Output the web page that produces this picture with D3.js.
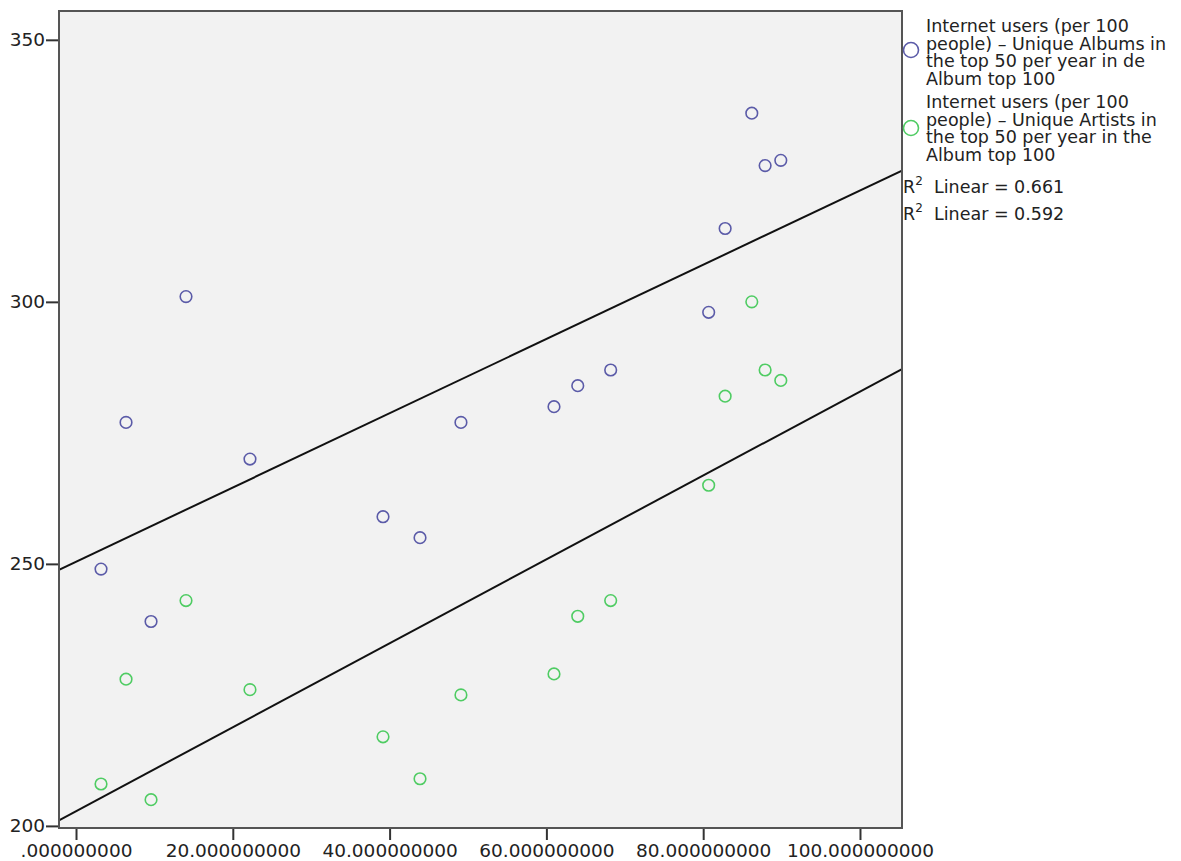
<!DOCTYPE html>
<html><head><meta charset="utf-8">
<script src="https://cdn.jsdelivr.net/npm/d3@7"></script>
<style>body{margin:0;background:#fff}svg{display:block}</style>
</head><body>
<script>
const internetUsers = [3.19, 6.38, 9.57, 14.03, 22.19, 39.16, 43.88, 49.1, 60.97, 64.0, 68.2, 80.7, 82.8, 86.2, 87.9, 89.9];
const uniqueAlbums  = [249, 277, 239, 301, 270, 259, 255, 277, 280, 284, 287, 298, 314, 336, 326, 327];
const uniqueArtists = [208, 228, 205, 243, 226, 217, 209, 225, 229, 240, 243, 265, 282, 300, 287, 285];
const seriesNames = [
  ["Internet users (per 100", "people) – Unique Albums in", "the top 50 per year in de", "Album top 100"],
  ["Internet users (per 100", "people) – Unique Artists in", "the top 50 per year in the", "Album top 100"]
];
const r2Labels = ["0.661", "0.592"];
const xTicks = [0, 20, 40, 60, 80, 100];
const yTicks = [200, 250, 300, 350];
const colors = ["#5b5ba8", "#4fcc63"];

const W = 1181, H = 861;
const L = 59, T = 11, R = 902, B = 828;
const svg = d3.select("body").append("svg").attr("width", W).attr("height", H);
const x = d3.scaleLinear().domain([-2.17, 105.36]).range([L, R]);
const y = d3.scaleLinear().domain([199.6, 355.5]).range([B, T]);

svg.append("rect").attr("x", L).attr("y", T).attr("width", R - L).attr("height", B - T).attr("fill", "#f2f2f2");

const font = "'DejaVu Sans', sans-serif";
const xAxis = svg.append("g").attr("transform", `translate(0,${B})`)
  .call(d3.axisBottom(x).tickValues(xTicks).tickSize(12).tickSizeOuter(0).tickFormat(d => d === 0 ? ".000000000" : d3.format(".9f")(d)));
xAxis.select(".domain").remove();
xAxis.selectAll("line").attr("stroke", "#333").attr("stroke-width", 2);
xAxis.selectAll("text").style("font-family", font).style("font-size", "18.5px").attr("fill", "#222").attr("dy", "0.71em").attr("y", 16);

const yAxis = svg.append("g").attr("transform", `translate(${L},0)`)
  .call(d3.axisLeft(y).tickValues(yTicks).tickSize(13).tickSizeOuter(0));
yAxis.select(".domain").remove();
yAxis.selectAll("line").attr("stroke", "#333").attr("stroke-width", 2);
yAxis.selectAll("text").style("font-family", font).style("font-size", "18.5px").attr("fill", "#222").attr("x", -14);

svg.append("clipPath").attr("id", "clip").append("rect")
  .attr("x", L).attr("y", T).attr("width", R - L).attr("height", B - T);

function fit(xs, ys) {
  const mx = d3.mean(xs), my = d3.mean(ys);
  let sxy = 0, sxx = 0;
  xs.forEach((v, i) => { sxy += (v - mx) * (ys[i] - my); sxx += (v - mx) ** 2; });
  const b = sxy / sxx;
  return v => my + b * (v - mx);
}
const series = [uniqueAlbums, uniqueArtists];
const g = svg.append("g").attr("clip-path", "url(#clip)");
series.forEach(ys => {
  const f = fit(internetUsers, ys);
  const [x0, x1] = x.domain();
  g.append("line").attr("x1", x(x0)).attr("y1", y(f(x0))).attr("x2", x(x1)).attr("y2", y(f(x1)))
    .attr("stroke", "#111").attr("stroke-width", 2);
});
series.forEach((ys, si) => {
  g.selectAll(null).data(ys).enter().append("circle")
    .attr("cx", (d, i) => x(internetUsers[i])).attr("cy", d => y(d)).attr("r", 5.8)
    .attr("fill", "none").attr("stroke", colors[si]).attr("stroke-width", 1.6);
});

svg.append("rect").attr("x", L).attr("y", T).attr("width", R - L).attr("height", B - T)
  .attr("fill", "none").attr("stroke", "#555").attr("stroke-width", 2);

// legend
const lg = svg.append("g");
const legBase = [32, 108];
const legCircle = [50, 128];
seriesNames.forEach((lines, si) => {
  lg.append("circle").attr("cx", 911).attr("cy", legCircle[si]).attr("r", 7.5)
    .attr("fill", "none").attr("stroke", colors[si]).attr("stroke-width", 1.6);
  lines.forEach((t, li) => {
    lg.append("text").attr("x", 926).attr("y", legBase[si] + li * 17.7).text(t)
      .style("font-family", font).style("font-size", "17.5px").attr("fill", "#222");
  });
});
r2Labels.forEach((v, i) => {
  const t = lg.append("text").attr("x", 903).attr("y", 193 + i * 27)
    .style("font-family", font).style("font-size", "17.5px").attr("fill", "#222");
  t.append("tspan").text("R");
  t.append("tspan").text("2").style("font-size", "12px").attr("dy", -8);
  t.append("tspan").text("  Linear = " + v).attr("dy", 8).attr("xml:space", "preserve").style("white-space", "pre");
});
</script>
</body></html>
